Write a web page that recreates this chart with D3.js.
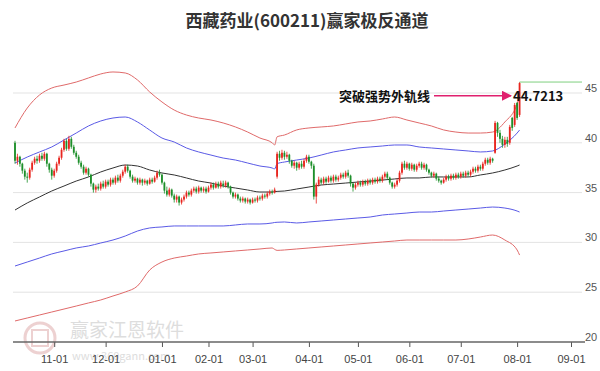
<!DOCTYPE html>
<html>
<head>
<meta charset="utf-8">
<script src="https://cdnjs.cloudflare.com/ajax/libs/d3/7.8.5/d3.min.js"></script>
<style>
  body { margin: 0; background: #fff; }
  .plotText { font-family: "Noto Sans CJK SC", "Noto Sans", sans-serif; }
</style>
</head>
<body>
<div id="chart"></div>
<script>
// K-line data, one entry per trading day (index 0 .. 206)
const opens = [40.0,38.2,38.6,37.9,37.2,36.6,36.5,37.3,38.0,38.4,38.2,38.7,38.4,38.9,37.9,37.3,36.7,37.2,37.9,38.5,
  39.3,40.2,39.4,40.4,39.6,39.0,38.6,38.0,37.6,37.0,37.4,36.8,35.9,35.3,35.6,35.4,35.9,35.6,36.1,35.8,
  36.3,36.0,36.5,36.2,36.7,37.1,37.6,37.2,36.6,36.2,36.4,36.0,36.3,36.0,36.2,35.9,36.3,36.1,36.5,37.0,
  36.8,36.0,35.2,34.8,35.3,34.7,34.3,34.6,34.0,34.3,34.6,35.0,34.8,35.2,35.4,35.1,35.5,35.2,35.4,35.1,
  35.5,35.8,35.5,35.9,35.6,35.9,35.7,36.0,35.6,35.0,34.6,34.8,34.4,34.2,34.4,34.1,34.3,34.0,34.3,34.2,
  34.5,34.4,34.7,34.6,34.9,35.1,35.0,36.6,38.9,38.5,39.0,38.6,38.8,38.2,37.7,38.0,37.5,37.9,37.6,38.2,
  38.6,38.1,37.7,34.6,35.8,36.3,36.0,36.4,36.1,36.5,36.2,36.6,36.3,36.5,36.8,36.6,37.0,36.7,35.9,35.5,
  35.8,36.0,35.8,36.1,35.9,36.2,36.0,36.3,36.1,36.4,36.2,36.6,36.9,36.5,36.0,35.6,35.8,36.2,37.0,37.9,
  37.5,37.9,37.4,37.8,37.3,37.7,37.9,37.5,37.8,37.3,37.0,36.7,36.9,36.4,36.2,36.0,36.3,36.6,36.4,36.7,
  36.5,36.8,36.6,36.9,36.7,37.0,36.8,37.1,37.4,37.2,37.6,37.4,37.9,38.3,38.0,38.4,39.0,42.0,41.0,40.4,
  39.8,40.3,40.0,42.5,41.8,44.0,42.8];
const closes = [38.2,38.6,37.9,37.2,36.6,36.5,37.3,38.0,38.4,38.2,38.7,38.4,38.9,37.9,37.3,36.7,37.2,37.9,38.5,39.3,
  40.2,39.4,40.4,39.6,39.0,38.6,38.0,37.6,37.0,37.4,36.8,35.9,35.3,35.6,35.4,35.9,35.6,36.1,35.8,36.3,
  36.0,36.5,36.2,36.7,37.1,37.6,37.2,36.6,36.2,36.4,36.0,36.3,36.0,36.2,35.9,36.3,36.1,36.5,37.0,36.8,
  36.0,35.2,34.8,35.3,34.7,34.3,34.6,34.0,34.3,34.6,35.0,34.8,35.2,35.4,35.1,35.5,35.2,35.4,35.1,35.5,
  35.8,35.5,35.9,35.6,36.0,35.7,36.0,35.6,35.0,34.6,34.8,34.4,34.2,34.4,34.1,34.3,34.0,34.3,34.2,34.5,
  34.4,34.7,34.6,34.9,35.1,35.0,35.3,38.9,38.5,39.0,38.6,38.8,38.2,37.7,38.0,37.5,37.9,37.6,38.2,38.6,
  38.1,37.7,34.6,35.8,36.3,36.0,36.4,36.1,36.5,36.2,36.6,36.3,36.5,36.8,36.6,37.0,36.7,35.9,35.5,35.8,
  36.0,35.8,36.1,35.9,36.2,36.0,36.3,36.1,36.4,36.2,36.6,36.9,36.5,36.0,35.6,35.8,36.2,37.0,37.9,37.5,
  37.9,37.4,37.8,37.3,37.7,37.9,37.5,37.8,37.3,37.0,36.7,36.9,36.4,36.2,36.0,36.3,36.6,36.4,36.7,36.5,
  36.8,36.6,36.9,36.7,37.0,36.8,37.1,37.4,37.2,37.6,37.4,37.9,38.3,38.0,38.4,38.2,42.0,41.0,40.4,39.8,
  40.3,39.9,41.6,41.5,43.8,42.5,46.0];
const highs = [40.2,38.9,38.7,38.0,37.4,37.0,37.5,38.2,38.6,38.7,38.9,39.0,39.1,39.0,38.0,37.5,37.4,38.1,38.7,39.5,
  40.4,40.4,40.7,40.6,39.8,39.2,38.8,38.2,37.8,37.6,37.5,36.9,36.0,35.8,35.9,36.1,36.2,36.3,36.3,36.5,
  36.5,36.7,36.8,36.9,37.3,37.8,37.8,37.3,36.8,36.6,36.5,36.5,36.4,36.4,36.3,36.5,36.5,36.7,37.2,37.3,
  36.9,36.1,35.6,35.5,35.4,34.9,34.8,34.7,34.5,34.8,35.2,35.2,35.4,35.6,35.6,35.7,35.6,35.6,35.6,35.7,
  36.0,36.0,36.1,36.1,36.2,36.2,36.2,36.1,35.7,35.1,35.0,34.9,34.6,34.6,34.5,34.5,34.4,34.5,34.5,34.7,
  34.7,34.9,34.9,35.1,35.3,35.3,35.5,39.1,39.2,39.3,39.2,39.1,38.9,38.3,38.2,38.1,38.1,38.2,38.4,38.8,
  38.8,38.2,37.9,36.0,36.6,36.5,36.6,36.6,36.7,36.7,36.8,36.8,36.7,37.0,37.0,37.2,37.3,36.8,36.0,36.0,
  36.2,36.2,36.3,36.3,36.4,36.4,36.5,36.5,36.6,36.6,36.8,37.1,37.1,36.6,36.1,36.0,36.4,37.2,38.1,38.2,
  38.1,38.0,38.0,37.9,37.9,38.1,38.1,38.0,37.9,37.4,37.1,37.1,37.0,36.6,36.3,36.5,36.8,36.8,36.9,36.9,
  37.0,37.0,37.1,37.1,37.2,37.2,37.3,37.6,37.6,37.8,37.8,38.1,38.5,38.5,38.6,38.5,42.2,42.1,41.3,40.7,
  40.6,40.6,41.8,42.6,44.0,44.1,46.1];
const lows = [37.9,37.8,37.6,36.9,36.3,36.0,36.3,37.1,37.8,37.9,38.0,38.2,38.2,37.6,37.0,36.3,36.5,37.0,37.7,38.3,
  39.1,39.2,39.2,39.4,38.8,38.4,37.8,37.4,36.8,36.8,36.6,35.6,35.0,35.0,35.2,35.2,35.4,35.4,35.6,35.6,
  35.8,35.8,36.0,36.0,36.5,36.9,37.0,36.4,36.0,36.0,35.8,35.8,35.7,35.8,35.7,35.8,35.9,36.0,36.3,36.6,
  35.8,34.9,34.6,34.6,34.5,34.0,34.0,33.7,33.8,34.1,34.4,34.6,34.6,35.0,34.9,34.9,35.0,35.0,34.9,35.0,
  35.3,35.3,35.4,35.4,35.4,35.5,35.5,35.4,34.8,34.4,34.4,34.2,34.0,34.0,33.9,33.9,33.8,33.9,34.0,34.0,
  34.2,34.2,34.4,34.4,34.7,34.8,34.9,36.4,38.2,38.3,38.3,38.4,37.9,37.5,37.4,37.2,37.3,37.4,37.4,38.0,
  37.9,37.4,34.3,33.9,35.6,35.8,35.8,35.9,36.0,36.0,36.0,36.1,36.1,36.3,36.4,36.4,36.5,35.6,35.1,35.3,
  35.6,35.6,35.6,35.7,35.7,35.8,35.8,35.9,35.9,36.0,36.0,36.4,36.3,35.8,35.4,35.4,35.6,36.0,36.8,37.3,
  37.3,37.2,37.2,37.1,37.1,37.5,37.3,37.3,37.1,36.8,36.5,36.5,36.2,36.0,35.8,35.9,36.1,36.2,36.2,36.3,
  36.3,36.4,36.4,36.5,36.5,36.6,36.6,36.9,37.0,37.0,37.2,37.2,37.7,37.8,37.8,38.0,38.9,40.6,40.0,39.5,
  39.5,39.6,39.8,41.2,41.6,42.3,42.6];

// channel lines, sampled at these day indices
const bandIdx = [0,5,10,15,20,25,30,35,40,45,50,55,60,65,70,75,80,85,90,95,100,105,106,107,
  110,115,120,125,130,135,140,145,150,155,160,165,170,175,180,185,190,195,200,205,206];
const outerUpper = [41.49,43.49,44.80,45.50,45.80,46.10,46.51,46.91,47.11,47.01,46.31,45.10,44.10,43.29,42.79,42.49,42.29,41.99,41.59,41.08,40.48,40.00,
  39.78,40.60,
  40.78,41.29,41.49,41.59,41.69,41.89,42.09,42.19,42.39,42.59,42.29,41.99,41.69,41.29,41.08,40.98,40.98,41.08,42.09,43.90,
  44.72];
const innerUpper = [37.97,38.57,39.08,39.58,40.28,40.98,41.69,42.19,42.49,42.59,42.09,41.28,40.48,40.08,39.48,39.08,38.77,38.47,38.27,37.97,37.67,37.47,
  37.37,37.90,
  38.07,38.27,38.47,38.77,39.08,39.28,39.48,39.58,39.68,39.78,39.78,39.58,39.48,39.38,39.28,39.18,39.08,39.18,39.88,40.98,
  41.28];
const midLine = [33.25,33.96,34.56,35.16,35.66,36.16,36.57,37.07,37.47,37.77,37.67,37.27,36.97,36.77,36.47,36.16,35.96,35.66,35.46,35.26,35.06,35.06,
  35.10,35.12,
  35.16,35.36,35.56,35.76,35.86,35.96,36.06,36.16,36.26,36.37,36.47,36.47,36.57,36.57,36.57,36.57,36.77,36.97,37.27,37.67,
  37.77];
const innerLower = [27.63,28.03,28.43,28.84,29.14,29.44,29.64,29.94,30.24,30.64,31.14,31.45,31.55,31.65,31.65,31.65,31.65,31.65,31.75,31.85,31.85,31.95,
  32.00,32.02,
  32.05,31.95,32.05,32.15,32.25,32.35,32.45,32.55,32.75,32.85,32.95,33.05,33.05,33.15,33.25,33.35,33.45,33.55,33.45,33.15,
  33.05];
const outerLower = [22.11,22.41,22.71,23.01,23.31,23.61,23.92,24.22,24.62,25.02,25.62,27.23,28.03,28.43,28.63,28.84,28.94,29.04,29.14,29.24,29.34,29.44,
  29.30,29.20,
  29.24,29.34,29.44,29.54,29.64,29.74,29.84,29.94,30.04,30.14,30.24,30.24,30.24,30.24,30.24,30.34,30.54,30.74,30.24,29.24,
  28.73];

// month ticks (day index where each month starts)
const monthLabels = ["11-01","12-01","01-01","02-01","03-01","04-01","05-01","06-01","07-01","08-01","09-01"];
const monthIdx = [16,37,60,79,97,120,140,161,182,205,227];
const yTicks = [20,25,30,35,40,45];

const titleText = "西藏药业(600211)赢家极反通道";
const noteText = "突破强势外轨线";
const noteValue = "44.7213";

const width = 600, height = 371;

const svg = d3.select("#chart")
    .append("svg")
    .attr("width", width)
    .attr("height", height)
    .attr("class", "plotText");

const x = d3.scaleLinear().domain([0, 227]).range([15, 571]);
const y = d3.scaleLinear().domain([20, 45]).range([342, 93]);

// watermark
const wm = svg.append("g").attr("opacity", 0.45);
wm.append("circle").attr("cx", 40).attr("cy", 338).attr("r", 15)
    .attr("fill", "none").attr("stroke", "#d99a9a").attr("stroke-width", 3);
wm.append("rect").attr("x", 32).attr("y", 330).attr("width", 16).attr("height", 16)
    .attr("fill", "none").attr("stroke", "#d99a9a").attr("stroke-width", 2);
wm.append("text").attr("x", 70).attr("y", 337)
    .attr("font-size", 19).attr("fill", "#b5b5b5").text("赢家江恩软件");
wm.append("text").attr("x", 72).attr("y", 360)
    .attr("font-size", 11).attr("fill", "#b5b5b5").text("www.360gann.com");

// grid lines
svg.append("g")
    .selectAll("line")
    .data(yTicks.slice(1))
    .join("line")
    .attr("x1", 13).attr("x2", 582)
    .attr("y1", d => y(d)).attr("y2", d => y(d))
    .attr("stroke", "#e3e3e3").attr("stroke-width", 1);

// right axis labels
svg.append("g")
    .selectAll("text")
    .data(yTicks)
    .join("text")
    .attr("x", 591)
    .attr("y", d => y(d) - 1)
    .attr("text-anchor", "middle")
    .attr("font-size", 11)
    .attr("fill", "#555")
    .attr("font-family", "Liberation Sans, Arial, sans-serif")
    .text(d => d);

// bottom axis
const xAxis = d3.axisBottom(x)
    .tickValues(monthIdx)
    .tickFormat((d, i) => monthLabels[i])
    .tickSize(5)
    .tickSizeOuter(0);
const gx = svg.append("g")
    .attr("transform", `translate(0, ${y(20)})`)
    .call(xAxis);
gx.select(".domain").remove();
gx.append("line").attr("x1", 13).attr("x2", 585)
    .attr("stroke", "#666").attr("stroke-width", 1.5);
gx.selectAll(".tick line").attr("stroke", "#555");
gx.selectAll(".tick text")
    .attr("font-size", 11)
    .attr("fill", "#444")
    .attr("font-family", "Liberation Sans, Arial, sans-serif")
    .attr("dy", "1.2em");

// channel lines
const band = (vals) => d3.line()
    .curve(d3.curveMonotoneX)
    .x((d, i) => x(bandIdx[i]))
    .y(d => y(d))(vals);

const lines = [
    {vals: outerUpper, color: "#e06a6a"},
    {vals: innerUpper, color: "#5a5ae6"},
    {vals: midLine, color: "#333333"},
    {vals: innerLower, color: "#5a5ae6"},
    {vals: outerLower, color: "#e06a6a"}
];
svg.append("g")
    .selectAll("path")
    .data(lines)
    .join("path")
    .attr("fill", "none")
    .attr("stroke", d => d.color)
    .attr("stroke-width", 1)
    .attr("d", d => band(d.vals));

// candles
const up = "#e8251e", down = "#1d8f2a";
const days = d3.range(closes.length);
const candles = svg.append("g");
candles.selectAll("line")
    .data(days)
    .join("line")
    .attr("x1", i => x(i)).attr("x2", i => x(i))
    .attr("y1", i => y(highs[i])).attr("y2", i => y(lows[i]))
    .attr("stroke", i => closes[i] >= opens[i] ? up : down)
    .attr("stroke-width", 0.8);
candles.selectAll("rect")
    .data(days)
    .join("rect")
    .attr("x", i => x(i) - 0.9)
    .attr("width", 1.8)
    .attr("y", i => y(Math.max(opens[i], closes[i])))
    .attr("height", i => Math.max(0.8, Math.abs(y(opens[i]) - y(closes[i]))))
    .attr("fill", i => closes[i] >= opens[i] ? up : down);

// last price marker line
const last = closes.length - 1;
svg.append("line")
    .attr("x1", x(last)).attr("x2", 582)
    .attr("y1", y(highs[last])).attr("y2", y(highs[last]))
    .attr("stroke", "#7fcf7f").attr("stroke-width", 1);

// annotation
svg.append("defs").append("marker")
    .attr("id", "arrow")
    .attr("viewBox", "0 0 10 10")
    .attr("refX", 9).attr("refY", 5)
    .attr("markerWidth", 7).attr("markerHeight", 7)
    .attr("orient", "auto")
    .append("path")
    .attr("d", "M0,0 L10,5 L0,10 z")
    .attr("fill", "#e0206e");
svg.append("line")
    .attr("x1", 434).attr("x2", 511)
    .attr("y1", y(+noteValue)).attr("y2", y(+noteValue))
    .attr("stroke", "#e0206e").attr("stroke-width", 1.5)
    .attr("marker-end", "url(#arrow)");
svg.append("text")
    .attr("x", 430).attr("y", y(+noteValue) + 5)
    .attr("text-anchor", "end")
    .attr("font-size", 13).attr("font-weight", "bold").attr("fill", "#111")
    .text(noteText);
svg.append("text")
    .attr("x", 513).attr("y", y(+noteValue) + 5)
    .attr("font-size", 13).attr("font-weight", "bold").attr("fill", "#111")
    .text(noteValue);

// title
svg.append("text")
    .attr("x", 307).attr("y", 27)
    .attr("text-anchor", "middle")
    .attr("font-size", 17).attr("font-weight", "bold").attr("fill", "#333")
    .text(titleText);
</script>
</body>
</html>
